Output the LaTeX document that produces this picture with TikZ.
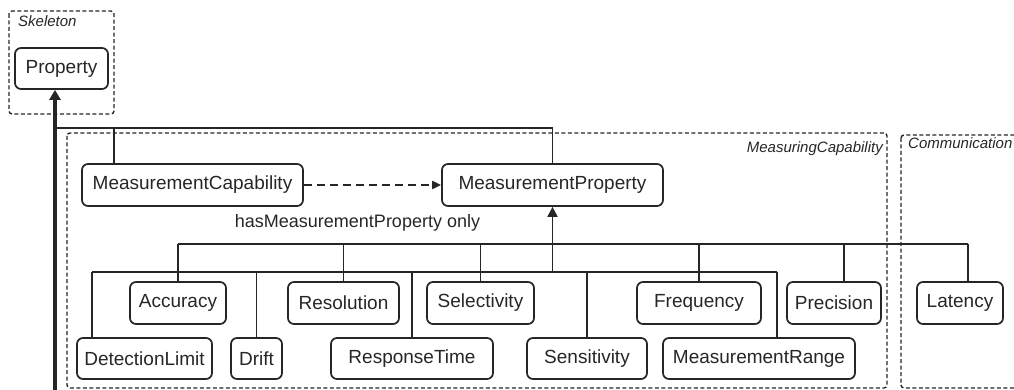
\documentclass[tikz,border=0pt]{standalone}
\usepackage{fontspec}
\setmainfont{Liberation Sans}
\usetikzlibrary{arrows.meta}
\definecolor{ink}{HTML}{262626}
\begin{document}
\begin{tikzpicture}[x=1pt,y=-1pt,
  cls/.style={draw=ink, line width=1.7pt, rounded corners=6pt, inner sep=0pt,
    text=ink, font=\fontsize{19}{22}\selectfont},
  grp/.style={draw=ink, line width=1.4pt, dash pattern=on 4pt off 2.5pt, rounded corners=3pt},
  grplabel/.style={text=ink, font=\fontsize{15}{18}\selectfont\itshape, inner sep=0pt},
  link/.style={draw=ink, line width=1.8pt},
  heavy/.style={draw=ink, line width=3.2pt},
  isa/.style={-{Triangle[width=10pt,length=10pt]}},
]
\useasboundingbox (0,0) rectangle (1014,390);
\clip (0,0) rectangle (1014,390);

% package frames
\draw[grp] (9,11) rectangle (114,114);
\node[grplabel, anchor=base west] (skl) at (18,27) {Skeleton};
\draw[grp] (67,133) rectangle (887,388);
\node[grplabel, anchor=base east] (mcl) at (883,153) {MeasuringCapability};
\draw[grp] (901,135) rectangle (1030,388);
\node[grplabel, anchor=base west] (coml) at (908,149) {Communication};

% classes
\node[cls, minimum width=93pt, minimum height=41pt] (prop) at (61.5,68.5) {Property};
\node[cls, minimum width=221pt, minimum height=42pt] (mc) at (192.5,185) {MeasurementCapability};
\node[cls, minimum width=221pt, minimum height=42pt] (mp) at (552.5,185) {MeasurementProperty};

% first row
\node[cls, minimum width=96pt, minimum height=42pt] (acc) at (178,303) {Accuracy};
\node[cls, minimum width=111pt, minimum height=42pt] (res) at (343.5,303) {Resolution};
\node[cls, minimum width=107pt, minimum height=42pt] (sel) at (480.5,303) {Selectivity};
\node[cls, minimum width=124pt, minimum height=42pt] (fre) at (699,303) {Frequency};
\node[cls, minimum width=94pt, minimum height=42pt] (pre) at (834,303) {Precision};
\node[cls, minimum width=86pt, minimum height=42pt] (lat) at (960,303) {Latency};

% second row
\node[cls, minimum width=135pt, minimum height=41pt] (det) at (144.5,358.5) {DetectionLimit};
\node[cls, minimum width=51pt, minimum height=41pt] (dri) at (256.5,358.5) {Drift};
\node[cls, minimum width=162pt, minimum height=41pt] (rst) at (412,358.5) {ResponseTime};
\node[cls, minimum width=120pt, minimum height=41pt] (sen) at (587,358.5) {Sensitivity};
\node[cls, minimum width=192pt, minimum height=41pt] (mr) at (759,358.5) {MeasurementRange};

% generalisation to Property
\coordinate (base) at (55,395);
\coordinate (bus) at (55,128);
\coordinate (mcj) at (114,128);
\draw[heavy, -{Triangle[width=11pt,length=10pt]}] (base) -- (base |- prop.south);
\draw[link] (bus) -| (mp.north);
\draw[link] (mcj) -- (mcj |- mc.north);

% restriction
\draw[link, dash pattern=on 8pt off 5pt, -{Triangle[width=8pt,length=9pt]}] (mc.east) -- (mp.west);
\node[text=ink, font=\fontsize{18}{21}\selectfont, inner sep=0pt, anchor=base] (lbl)
  at (357.5,227) {hasMeasurementProperty only};

% generalisation to MeasurementProperty
\coordinate (j1) at (552.5,244);
\coordinate (j2) at (552.5,272);
\draw[link] (acc.north |- j1) -- ([xshift=8pt]lat.north |- j1);
\foreach \n in {acc,res,sel,fre} \draw[link] (\n.north) -- (\n.north |- j1);
\draw[link] ([xshift=10pt]pre.north) -- ([xshift=10pt]pre.north |- j1);
\draw[link] ([xshift=8pt]lat.north) -- ([xshift=8pt]lat.north |- j1);

\draw[link] ([xshift=-52.5pt]det.north |- j2) -- ([xshift=18pt]mr.north |- j2);
\draw[link] ([xshift=-52.5pt]det.north) -- ([xshift=-52.5pt]det.north |- j2);
\foreach \n in {dri,rst,sen} \draw[link] (\n.north) -- (\n.north |- j2);
\draw[link] ([xshift=18pt]mr.north) -- ([xshift=18pt]mr.north |- j2);

\draw[link, isa] (j2) -- (j2 |- mp.south);
\end{tikzpicture}
\end{document}
